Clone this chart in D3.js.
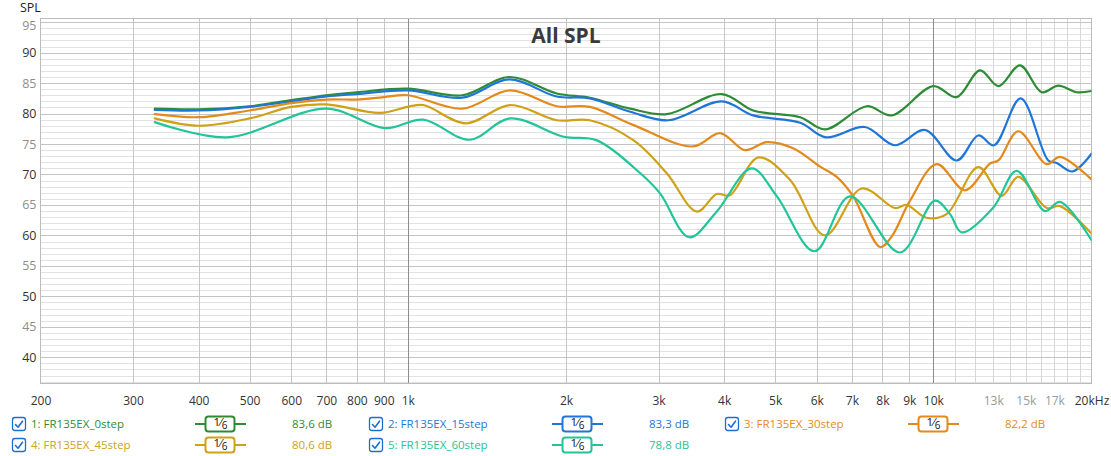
<!DOCTYPE html>
<html><head><meta charset="utf-8">
<script src="https://cdn.jsdelivr.net/npm/d3@7/dist/d3.min.js"></script>
<style>
body{margin:0;background:#fff;overflow:hidden;}
svg text{font-family:"Open Sans","Noto Sans",sans-serif;}
</style></head><body>
<svg id="chart" width="1111" height="456"></svg>
<script>
// ---------- data ----------
const chartTitle = "All SPL";
const yAxisTitle = "SPL";
const seriesNames = ["1: FR135EX_0step","2: FR135EX_15step","3: FR135EX_30step","4: FR135EX_45step","5: FR135EX_60step"];
const seriesColors = ["#2e8b35","#1f76d6","#e38a1c","#cfa117","#22c49a"];
const seriesLevels = ["83,6 dB","83,3 dB","82,2 dB","80,6 dB","78,8 dB"];
const smoothingLabel = ["1","6"];

const freq0 = [330,400,500,600,700,800,1000,1270,1560,1920,2220,2650,3110,3960,4540,5580,6220,7470,8330,10000,11080,12270,13300,14620,16080,17300,18740,20000];
const spl0  = [80.8,80.7,81.2,82.2,83.0,83.5,84.1,83.0,86.0,83.3,82.6,80.8,79.9,83.2,80.5,79.4,77.4,81.2,79.7,84.5,82.7,87.1,84.5,87.9,83.5,84.6,83.5,83.7];

const freq1 = [330,400,500,600,700,800,1000,1270,1560,1920,2220,2650,3130,3960,4540,5580,6250,7410,8450,9640,11080,12180,13050,14660,16550,17170,18420,20000];
const spl1  = [80.6,80.5,81.1,82.0,82.8,83.2,83.8,82.6,85.6,82.8,82.5,80.3,78.9,82.0,79.7,78.5,76.1,77.8,74.8,77.3,72.3,76.4,74.8,82.5,72.3,71.9,70.5,73.4];

const freq2 = [330,400,500,600,700,800,900,1000,1270,1565,1920,2220,2690,3490,3930,4380,4820,5410,6090,6550,7040,7920,8330,9030,10150,11490,12820,13300,14510,16430,17420,20000];
const spl2  = [79.9,79.4,80.5,81.7,82.3,82.3,82.7,83.0,80.8,83.8,81.2,81.1,78.1,74.6,76.8,74.0,75.3,74.3,71.3,69.6,66.4,58.1,59.8,65.7,71.7,67.4,71.8,72.3,77.1,71.7,72.9,69.2];

const freq3 = [330,400,500,600,700,885,1000,1070,1290,1565,1920,2220,2690,3110,3550,3870,4100,4650,5340,6220,7310,8450,8900,9700,10600,12180,13500,14510,16430,17420,20000];
const spl3  = [79.2,78.0,79.2,81.1,81.5,80.1,81.1,81.4,78.4,81.4,78.9,78.9,75.6,70.2,63.9,66.8,66.6,72.8,69.1,60.0,67.7,64.5,65.0,62.9,63.5,71.2,66.5,69.6,64.5,64.8,60.3];

const freq4 = [330,452,700,905,1070,1310,1565,1980,2290,2770,3020,3430,3870,4510,5040,5940,6940,8640,10070,10760,11320,13010,14410,16310,17420,20000];
const spl4  = [78.6,76.1,80.8,77.6,79.0,75.7,79.2,76.2,75.6,70.2,66.9,59.7,63.9,71.0,66.4,57.4,66.4,57.2,65.7,63.5,60.5,64.6,70.6,64.0,65.5,59.2];

const seriesFreqs = [freq0,freq1,freq2,freq3,freq4];
const seriesSpls  = [spl0,spl1,spl2,spl3,spl4];

const xTickValues = [200,300,400,500,600,700,800,900,1000,2000,3000,4000,5000,6000,7000,8000,9000,10000,13000,15000,17000,20000];
const xTickLabels = ["200","300","400","500","600","700","800","900","1k","2k","3k","4k","5k","6k","7k","8k","9k","10k","13k","15k","17k","20kHz"];
const xTickFaint  = [13000,15000,17000];
const xGridValues = [300,400,500,600,700,800,900,1000,2000,3000,4000,5000,6000,7000,8000,9000,10000,11000,12000,13000,14000,15000,16000,17000,18000,19000];
const xGridDecades = [1000,10000];
const yTickValues = [40,45,50,55,60,65,70,75,80,85,90,95];
const xDomain = [200,20000];
const yDomain = [35.7,95.6];

// ---------- layout ----------
const W = 1111, H = 456;
const plot = {left:40.5, right:1091.5, top:18.5, bottom:383.5};
const svg = d3.select("#chart");
const x = d3.scaleLog().domain(xDomain).range([plot.left, plot.right]);
const y = d3.scaleLinear().domain(yDomain).range([plot.bottom, plot.top]);

svg.append("rect").attr("width",W).attr("height",H).attr("fill","#fff");

// horizontal grid
const minorY = d3.range(Math.ceil(yDomain[0]), Math.floor(yDomain[1])+1);
const gGrid = svg.append("g");
gGrid.selectAll("line.hmin").data(minorY.filter(v=>v%5!==0)).join("line")
  .attr("x1",plot.left).attr("x2",plot.right)
  .attr("y1",d=>Math.round(y(d))+0.5).attr("y2",d=>Math.round(y(d))+0.5)
  .attr("stroke","#e2e2e2").attr("stroke-width",1);
gGrid.selectAll("line.vg").data(xGridValues).join("line")
  .attr("y1",plot.top).attr("y2",plot.bottom)
  .attr("x1",d=>Math.round(x(d))+0.5).attr("x2",d=>Math.round(x(d))+0.5)
  .attr("stroke",d=> xGridDecades.includes(d) ? "#8c8c8c" : (d>10000 ? "#d8d8d8" : "#c6c6c6"))
  .attr("stroke-width",1);
gGrid.selectAll("line.hmaj").data(yTickValues).join("line")
  .attr("x1",plot.left).attr("x2",plot.right)
  .attr("y1",d=>Math.round(y(d))+0.5).attr("y2",d=>Math.round(y(d))+0.5)
  .attr("stroke","#c4c4c4").attr("stroke-width",1);
// re-draw decade lines on top
gGrid.selectAll("line.vd").data(xGridDecades).join("line")
  .attr("y1",plot.top).attr("y2",plot.bottom)
  .attr("x1",d=>Math.round(x(d))+0.5).attr("x2",d=>Math.round(x(d))+0.5)
  .attr("stroke","#8c8c8c").attr("stroke-width",1);

svg.append("rect").attr("x",plot.left).attr("y",plot.top)
  .attr("width",plot.right-plot.left).attr("height",plot.bottom-plot.top)
  .attr("fill","none").attr("stroke","#bcbcbc").attr("stroke-width",1);

// axes (labels only)
const xAxis = d3.axisBottom(x).tickValues(xTickValues)
  .tickFormat((d,i)=>xTickLabels[i]).tickSize(0).tickPadding(0);
const gx = svg.append("g").attr("transform",`translate(0,${plot.bottom})`).call(xAxis);
gx.select(".domain").remove();
gx.selectAll("text").attr("y",18).attr("dy","0.32em")
  .attr("font-size","12px").attr("font-family","'Open Sans','Noto Sans',sans-serif")
  .attr("fill",d=> xTickFaint.includes(d) ? "#9a9a9a" : "#333");

const yAxis = d3.axisLeft(y).tickValues(yTickValues).tickSize(0).tickPadding(4);
const gy = svg.append("g").attr("transform",`translate(${plot.left},0)`).call(yAxis);
gy.select(".domain").remove();
gy.selectAll("text").attr("font-size","12.5px").attr("font-family","'Open Sans','Noto Sans',sans-serif")
  .attr("fill",d=> d%10===0 ? "#333" : "#8e8e8e")
  .attr("y",d=> d===95 ? 3 : 0);

svg.append("text").attr("x",20).attr("y",12).attr("font-size","12.5px")
  .attr("fill","#222").text(yAxisTitle);

svg.append("text").attr("x",566).attr("y",43).attr("text-anchor","middle")
  .attr("font-size","21px").attr("font-weight","bold").attr("fill","#3a3a3a").text(chartTitle);

// curves
const clip = svg.append("defs").append("clipPath").attr("id","clip");
clip.append("rect").attr("x",plot.left).attr("y",plot.top)
  .attr("width",plot.right-plot.left).attr("height",plot.bottom-plot.top);
const line = d3.line().x(d=>x(d[0])).y(d=>y(d[1])).curve(d3.curveCatmullRom.alpha(0.5));
const gLines = svg.append("g").attr("clip-path","url(#clip)");
seriesNames.forEach((name,i)=>{
  const pts = seriesFreqs[i].map((f,j)=>[f, seriesSpls[i][j]]);
  gLines.append("path").datum(pts).attr("d",line)
    .attr("fill","none").attr("stroke",seriesColors[i]).attr("stroke-width",2.2)
    .attr("stroke-linejoin","round").attr("stroke-linecap","round");
});

// legend
const legCols = [12, 369, 725];
const legRows = [424, 445];
const gLeg = svg.append("g");
seriesNames.forEach((name,i)=>{
  const col = i % 3, row = Math.floor(i/3);
  const cx = legCols[col], cy = legRows[row];
  const g = gLeg.append("g").attr("transform",`translate(${cx},${cy})`);
  g.append("rect").attr("x",0.5).attr("y",-6.5).attr("width",13).attr("height",13).attr("rx",2.5)
    .attr("fill","#fff").attr("stroke","#1a6fd1").attr("stroke-width",1.3);
  g.append("path").attr("d","M3.5,0.5 L6,3.2 L10.5,-2.8").attr("fill","none")
    .attr("stroke","#1a6fd1").attr("stroke-width",1.6).attr("stroke-linecap","round").attr("stroke-linejoin","round");
  g.append("text").attr("x",19).attr("y",0).attr("dy","0.35em").attr("font-size","11.5px")
    .attr("fill",seriesColors[i]).text(name);
  // smoothing symbol
  const sx = 183;
  g.append("line").attr("x1",sx).attr("x2",sx+51).attr("y1",0).attr("y2",0)
    .attr("stroke",seriesColors[i]).attr("stroke-width",2);
  g.append("rect").attr("x",sx+10.5).attr("y",-7.5).attr("width",29).attr("height",15).attr("rx",3)
    .attr("fill","#fff").attr("stroke",seriesColors[i]).attr("stroke-width",2);
  const t = g.append("text").attr("x",sx+25.5).attr("y",0).attr("text-anchor","middle")
    .attr("font-size","11.5px").attr("fill","#111");
  t.append("tspan").attr("dy","0.2em").text(smoothingLabel[0]);
  t.append("tspan").text("\u2044");
  t.append("tspan").attr("dy","0.3em").attr("font-size","10px").text(smoothingLabel[1]);
  g.append("text").attr("x",280).attr("y",0).attr("dy","0.35em").attr("font-size","11.5px")
    .attr("fill",seriesColors[i]).text(seriesLevels[i]);
});
</script>
</body></html>
